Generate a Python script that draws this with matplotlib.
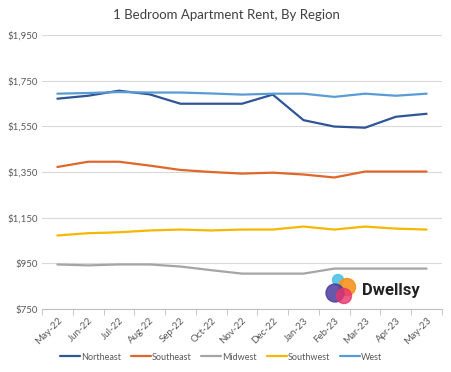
import matplotlib.pyplot as plt
from matplotlib.patches import Circle
import numpy as np

months = ['May-22', 'Jun-22', 'Jul-22', 'Aug-22', 'Sep-22', 'Oct-22', 'Nov-22',
          'Dec-22', 'Jan-23', 'Feb-23', 'Mar-23', 'Apr-23', 'May-23']
northeast = [1671, 1684, 1706, 1690, 1649, 1649, 1649, 1689, 1577, 1549, 1544, 1592, 1605]
southeast = [1372, 1395, 1395, 1378, 1359, 1350, 1343, 1347, 1339, 1326, 1352, 1352, 1352]
midwest = [945, 941, 945, 945, 936, 920, 905, 905, 905, 927, 927, 927, 927]
southwest = [1072, 1082, 1086, 1094, 1098, 1094, 1098, 1098, 1111, 1098, 1111, 1102, 1098]
west = [1693, 1696, 1700, 1698, 1698, 1694, 1689, 1693, 1693, 1679, 1693, 1684, 1693]

names = ['Northeast', 'Southeast', 'Midwest', 'Southwest', 'West']
colors = ['#2F5597', '#E0672B', '#A5A5A5', '#F5B800', '#5B9BD5']
series = [northeast, southeast, midwest, southwest, west]

plt.rcParams['font.family'] = ['Lato', 'DejaVu Sans']

W, H = 452, 372
fig = plt.figure(figsize=(W / 100, H / 100), dpi=100)
ax = fig.add_axes([42 / W, 1 - 309 / H, 400 / W, 274 / H])

x = np.arange(len(months))
for vals, name, c in zip(series, names, colors):
    ax.plot(x, vals, color=c, linewidth=1.6, label=name, solid_capstyle='round')

ax.set_xlim(-0.5, len(months) - 0.5)
ax.set_ylim(750, 1950)
yt = np.arange(750, 1951, 200)
ax.set_yticks(yt)
ax.set_yticklabels(['${:,}'.format(v) for v in yt])
ax.grid(axis='y', color='#D9D9D9', linewidth=0.8)
ax.set_axisbelow(True)
for s in ['top', 'right', 'left']:
    ax.spines[s].set_visible(False)
ax.spines['bottom'].set_color('#BFBFBF')
ax.tick_params(axis='y', length=0, labelsize=7, labelcolor='#595959', pad=3)

ax.set_xticks(x)
ax.set_xticklabels(months, rotation=45, ha='right', rotation_mode='anchor')
ax.set_xticks(np.arange(-0.5, len(months)), minor=True)
ax.tick_params(axis='x', which='major', length=0, labelsize=7, labelcolor='#595959', pad=5)
ax.tick_params(axis='x', which='minor', length=4, color='#BFBFBF')

fig.text(0.5, 1 - 15 / H, '1 Bedroom Apartment Rent, By Region', ha='center', va='center',
         fontsize=9.5, color='#404040')

leg = fig.legend(loc='center', bbox_to_anchor=(221 / W, 1 - 357 / H), ncol=5, frameon=False,
                 fontsize=6.5, handlelength=2.2, handletextpad=0.1, columnspacing=1.1)
for t in leg.get_texts():
    t.set_color('#595959')

# logo
lax = fig.add_axes([320 / W, 1 - 305 / H, 40 / W, 40 / H])
lax.set_xlim(320, 360)
lax.set_ylim(305, 265)
lax.set_aspect('equal')
lax.axis('off')
lax.add_patch(Circle((338, 280), 5.5, color='#4FC3E8', alpha=0.9))
lax.add_patch(Circle((347, 287), 8.5, color='#F7931E', alpha=0.9))
lax.add_patch(Circle((335, 293), 9, color='#4B3C9E', alpha=0.85))
lax.add_patch(Circle((344, 296), 7.5, color='#E8336D', alpha=0.8))
fig.text(362 / W, 1 - 291 / H, 'Dwellsy', ha='left', va='center', fontsize=12,
         fontweight='bold', color='#222222', family='Roboto')

fig.savefig('out.png', dpi=100)
